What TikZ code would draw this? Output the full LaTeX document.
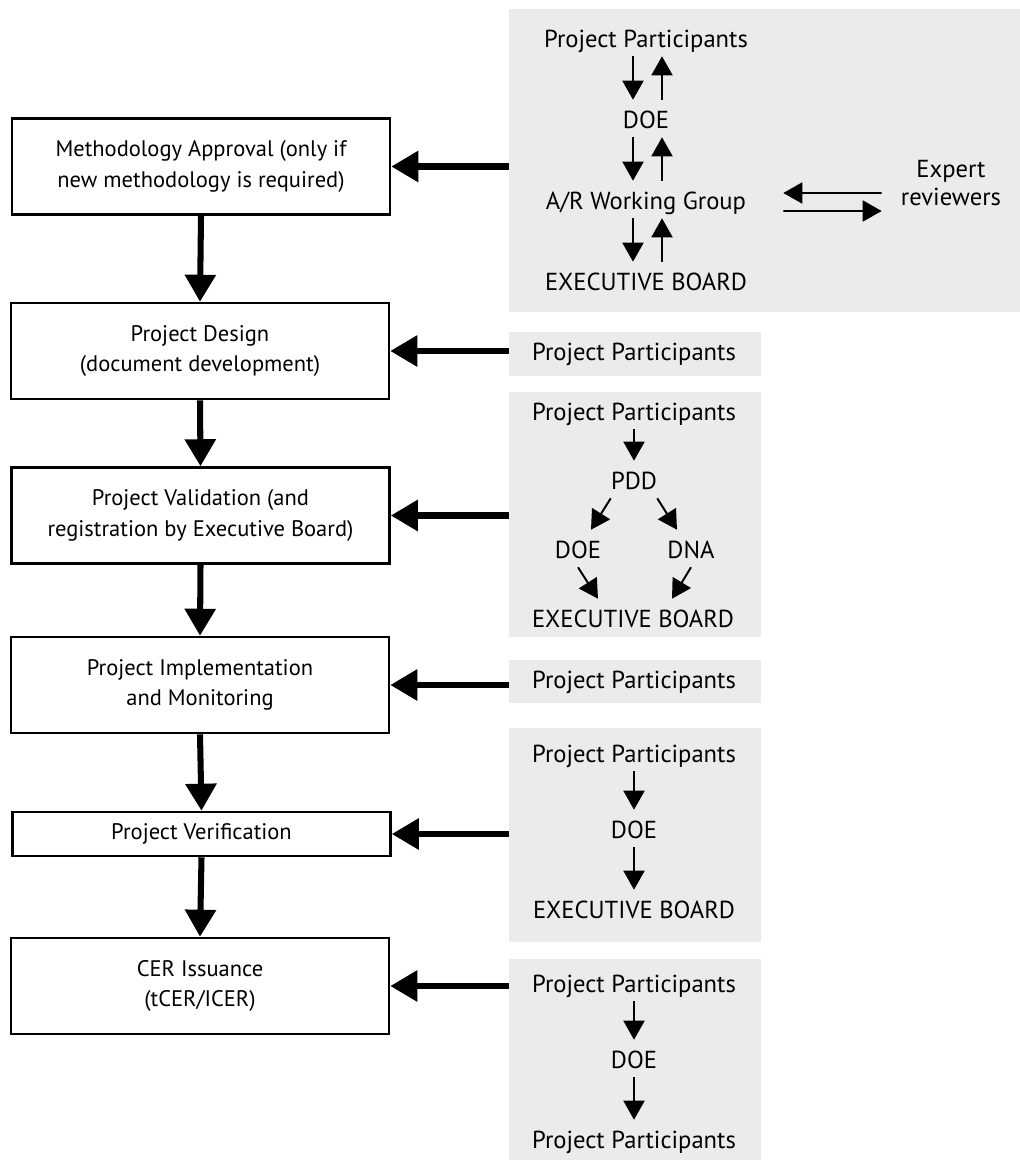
\documentclass[tikz,border=0pt]{standalone}
\usepackage{fontspec}
\setmainfont{PT Sans}
\usetikzlibrary{arrows.meta}
\definecolor{panelgrey}{RGB}{235,235,235}
\tikzset{
	stage/.style={draw,line width=1.8pt,minimum width=9.45cm,minimum height=2.4cm,align=center,font=\fontsize{16}{21.8}\selectfont},
	panel/.style={fill=panelgrey,inner sep=0,minimum width=6.3cm},
	actor/.style={anchor=base,inner xsep=0,inner ysep=0.15cm,text height=0.55cm,text depth=0.075cm,font=\fontsize{17.5}{20}\selectfont},
	flow/.style={line width=4.3pt,-{Triangle[length=0.675cm,width=0.75cm]}},
	hand/.style={line width=1.4pt,-{Triangle[length=0.475cm,width=0.525cm]}}
}
\begin{document}
\begin{tikzpicture}[x=0.025cm,y=-0.025cm]
				\useasboundingbox (0,0) rectangle (1020,1167);
				\node[stage] (b1) at (201,166.5) {Methodology Approval (only if\\new methodology is required)};
				\node[stage] (b2) at (200,351) {Project Design\\(document development)};
				\node[stage] (b3) at (200.5,515.5) {Project Validation (and\\registration by Executive Board)};
				\node[stage] (b4) at (200,685) {Project Implementation\\and Monitoring};
				\node[stage,minimum height=1.1cm] (b5) at (201.5,834) {Project Verification};
				\node[stage] (b6) at (200,986) {CER Issuance\\(tCER/ICER)};
				\foreach \a/\b in {b1/b2,b2/b3,b3/b4,b4/b5,b5/b6} \draw[flow] (\a.south) to (\b.north);
				\node[panel,minimum width=12.775cm,minimum height=7.575cm] (p1) at (764.5,160.5) {};
				\node[panel,minimum height=1.1cm] (p2) at (635,354) {};
				\node[panel,minimum height=6.125cm] (p3) at (635,514.5) {};
				\node[panel,minimum height=1.075cm] (p4) at (635,681.5) {};
				\node[panel,minimum height=5.35cm] (p5) at (635,835) {};
				\node[panel,minimum height=5.025cm] (p6) at (635,1059.5) {};
				\foreach \n in {1,...,6} \draw[flow] (p\n.west |- b\n.east) to (b\n.east);
				\node[actor] (pp1) at (646,47) {Project Participants};
				\node[actor] (doe1) at (646,128) {DOE};
				\node[actor] (wg) at (646,209) {A/R Working Group};
				\node[actor] (eb1) at (646,290) {EXECUTIVE BOARD};
				\node[anchor=base,inner sep=0,align=center,font=\fontsize{17.5}{19.9}\selectfont] (ex) at (951,205.5) {Expert\\reviewers};
				\foreach \a/\b in {pp1/doe1,doe1/wg,wg/eb1} {
					\draw[hand] ([xshift=-0.325cm]\a.south) to ([xshift=-0.325cm]\b.north);
					\draw[hand] ([xshift=0.4cm]\b.north) to ([xshift=0.4cm]\a.south);
				}
				\draw[hand] ([xshift=-0.475cm,yshift=0.3125cm]ex.base west) to ([xshift=0.925cm,yshift=0.4cm]wg.base east);
				\draw[hand] ([xshift=0.925cm,yshift=-0.05cm]wg.base east) to ([xshift=-0.475cm,yshift=-0.1375cm]ex.base west);
				\node[actor] (pp2) at (634,360) {Project Participants};
				\node[actor] (pp3) at (634,420) {Project Participants};
				\node[actor] (pdd) at (634,489) {PDD};
				\node[actor] (doe3) at (578,558) {DOE};
				\node[actor] (dna) at (691,558) {DNA};
				\node[actor] (eb3) at (633,627) {EXECUTIVE BOARD};
				\draw[hand] (pp3.south) to (pdd.north);
				\draw[hand] (pdd.south west) to ([xshift=0.325cm]doe3.north);
				\draw[hand] (pdd.south east) to ([xshift=-0.35cm]dna.north);
				\draw[hand] (doe3.south) to ([xshift=-0.875cm]eb3.north);
				\draw[hand] (dna.south) to ([xshift=0.975cm]eb3.north);
				\node[actor] (pp4) at (634,688) {Project Participants};
				\node[actor] (pp5) at (634,762) {Project Participants};
				\node[actor] (doe5) at (634,838) {DOE};
				\node[actor] (eb5) at (634,918) {EXECUTIVE BOARD};
				\node[actor] (pp6) at (634,992) {Project Participants};
				\node[actor] (doe6) at (634,1068) {DOE};
				\node[actor] (pp7) at (634,1148) {Project Participants};
				\foreach \a/\b in {pp5/doe5,doe5/eb5,pp6/doe6,doe6/pp7} \draw[hand] (\a.south) to (\b.north);
			\end{tikzpicture}
\end{document}
